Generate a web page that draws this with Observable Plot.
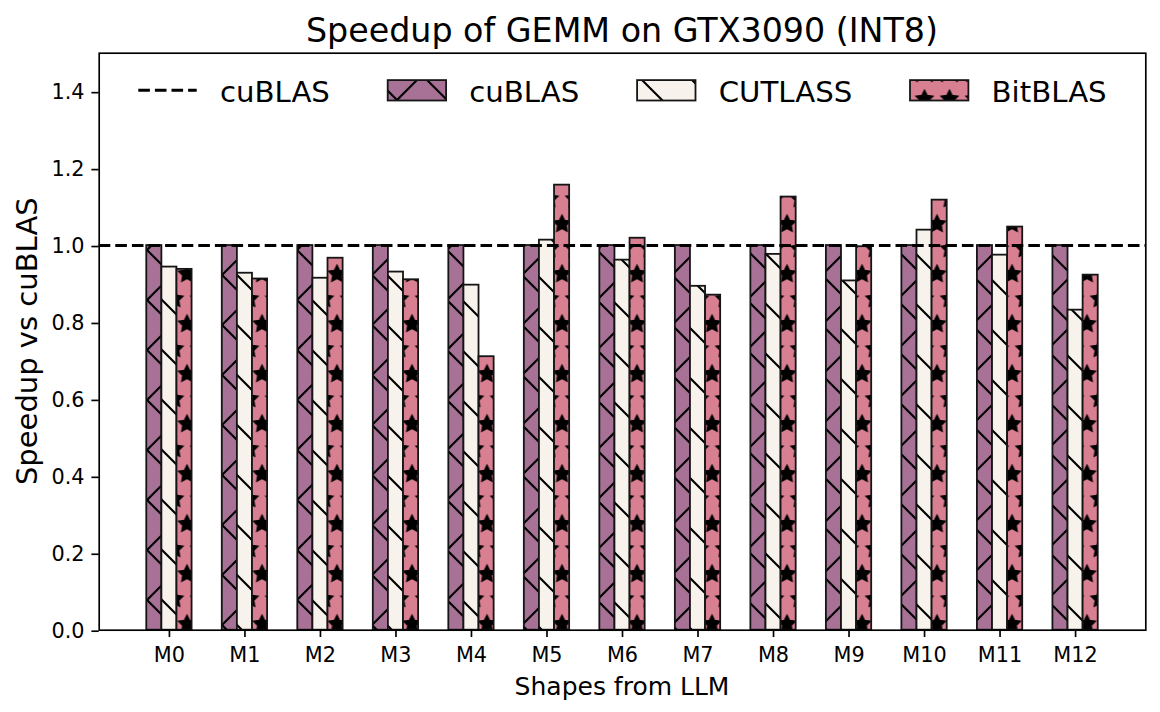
<!DOCTYPE html>
<html><head><meta charset="utf-8">
<script src="https://cdn.jsdelivr.net/npm/d3@7"></script>
<script src="https://cdn.jsdelivr.net/npm/@observablehq/plot@0.6"></script>
<style>
body{margin:0;background:#fff;font-family:"DejaVu Sans",sans-serif;}
#title{height:30px;padding-top:14px;margin-left:98.7px;width:1046.6px;line-height:33.3px;font-size:33.3px;text-align:center;color:#000;white-space:nowrap;}
#chart svg{display:block;}
</style></head><body>
<div id="title">Speedup of GEMM on GTX3090 (INT8)</div>
<div id="chart"></div>
<script>
// ---- data ----
const shapes = ["M0","M1","M2","M3","M4","M5","M6","M7","M8","M9","M10","M11","M12"];
const seriesNames = ["cuBLAS","CUTLASS","BitBLAS"];
const cublas  = [1,1,1,1,1,1,1,1,1,1,1,1,1];
const cutlass = [0.944,0.928,0.915,0.931,0.897,1.014,0.962,0.894,0.977,0.908,1.040,0.975,0.832];
const bitblas = [0.938,0.913,0.967,0.911,0.711,1.157,1.019,0.871,1.126,0.997,1.118,1.048,0.923];
const yTicks = [0,0.2,0.4,0.6,0.8,1.0,1.2,1.4];
const refValue = 1.0;
const refName = "cuBLAS";
const yLabel = "Speedup vs cuBLAS";
const xLabel = "Shapes from LLM";

// ---- styles ----
const colors = {cuBLAS:"#A87297", CUTLASS:"#F7F2EB", BitBLAS:"#D88092"};
const patterns = {cuBLAS:"hatch-x", CUTLASS:"hatch-bs", BitBLAS:"hatch-star"};
const offsets = {cuBLAS:-0.2, CUTLASS:0, BitBLAS:0.2};
const valuesOf = {cuBLAS:cublas, CUTLASS:cutlass, BitBLAS:bitblas};
const EDGE = "#151515";
const TOP = 44; // svg offset in page

const marks = [];
for (const s of seriesNames) {
  const rows = shapes.map((name,i)=>({i, name, v: valuesOf[s][i]}));
  const off = offsets[s];
  const opts = {x1: d=>d.i+off-0.1, x2: d=>d.i+off+0.1, y1: 0, y2: "v"};
  marks.push(Plot.rectY(rows, {...opts, fill: colors[s]}));
  marks.push(Plot.rectY(rows, {...opts, fill: `url(#${patterns[s]})`, stroke: EDGE, strokeWidth: 1.8}));
}
marks.push(Plot.ruleY([refValue], {stroke:"#000", strokeWidth:3.1, strokeDasharray:"11.6,5"}));
marks.push(Plot.frame({stroke:"#000", strokeWidth:1.67}));
marks.push(Plot.axisY({ticks: yTicks, tickFormat: d=>d.toFixed(1), tickSize:7.3, tickPadding:7.4, strokeWidth:1.67, label:null, fontSize:20.8, dy:1}));
marks.push(Plot.axisX({ticks: d3.range(shapes.length), tickFormat: i=>shapes[i], tickSize:7.3, tickPadding:9.9, strokeWidth:1.67, label:null, fontSize:20.8}));

const svg = Plot.plot({
  width:1160, height:668,
  marginTop:8.7, marginBottom:82.3, marginLeft:98.7, marginRight:14.7,
  x:{type:"linear", domain:[-0.93,12.93]},
  y:{domain:[0,1.5]},
  style:{fontFamily:"'DejaVu Sans', sans-serif", fontSize:"20.8px", color:"#000", background:"#fff", overflow:"visible"},
  marks
});
document.getElementById("chart").appendChild(svg);

// ---- pattern defs ----
const ns = d3.select(svg);
const defs = ns.insert("defs", ":first-child");
function linesPattern(id, slashC, backC) {
  const p = defs.append("pattern").attr("id", id).attr("patternUnits","userSpaceOnUse")
    .attr("x",0).attr("y",0).attr("width",50).attr("height",50);
  for (const c of slashC) for (const k of [-100,-50,0,50,100]) {
    p.append("line").attr("x1",-10).attr("y1",c+k+10).attr("x2",60).attr("y2",c+k-60)
      .attr("stroke","#000").attr("stroke-width",2.1);
  }
  for (const c of backC) for (const k of [-100,-50,0,50,100]) {
    p.append("line").attr("x1",-10).attr("y1",c+k-10).attr("x2",60).attr("y2",c+k+60)
      .attr("stroke","#000").attr("stroke-width",2.1);
  }
}
linesPattern("hatch-x", [3], [9]);
linesPattern("hatch-bs", [], [44]);
// stars
const r = 25/3, ri = r*0.5;
const starPts = d3.range(10).map(k=>{const a=-Math.PI/2+k*Math.PI/5; const rr=k%2?ri:r; return [rr*Math.cos(a), rr*Math.sin(a)];});
const starPath = "M"+starPts.map(p=>p[0].toFixed(3)+","+p[1].toFixed(3)).join("L")+"Z";
const sp = defs.append("pattern").attr("id","hatch-star").attr("patternUnits","userSpaceOnUse")
  .attr("x",-0.5).attr("y",5).attr("width",25).attr("height",50);
for (const [cx,cy] of [[12.5,25],[0,0],[25,0],[0,50],[25,50],[12.5,-25],[12.5,75]]) {
  sp.append("path").attr("d",starPath).attr("transform",`translate(${cx},${cy})`)
    .attr("fill","#000").attr("stroke","#000").attr("stroke-width",1.8).attr("stroke-linejoin","miter");
}

// ---- axis labels ----
ns.append("text").attr("transform",`translate(37,${(8.7+585.7)/2}) rotate(-90)`).attr("text-anchor","middle")
  .attr("font-size",29).attr("fill","#000").text(yLabel);
ns.append("text").attr("x",(98.7+1145.3)/2).attr("y",651).attr("text-anchor","middle")
  .attr("font-size",25).attr("fill","#000").text(xLabel);

// ---- legend ----
const lg = ns.append("g").attr("text-anchor","start");
const ly = 90.3 - TOP;
lg.append("line").attr("x1",138.3).attr("x2",196.7).attr("y1",ly).attr("y2",ly)
  .attr("stroke","#000").attr("stroke-width",3.1).attr("stroke-dasharray","11.6,5");
lg.append("text").attr("x",219.9).attr("y",102.3-TOP).attr("text-anchor","start").attr("font-size",29.2).attr("fill","#000").text(refName);
const patchX = {cuBLAS:387.7, CUTLASS:637.1, BitBLAS:910.0};
const textX = {cuBLAS:469.3, CUTLASS:718.7, BitBLAS:991.6};
for (const s of seriesNames) {
  lg.append("rect").attr("x",patchX[s]).attr("y",80.1-TOP).attr("width",58.4).attr("height",20.4).attr("fill",colors[s]);
  lg.append("rect").attr("x",patchX[s]).attr("y",80.1-TOP).attr("width",58.4).attr("height",20.4)
    .attr("fill",`url(#${patterns[s]})`).attr("stroke",EDGE).attr("stroke-width",1.8);
  lg.append("text").attr("x",textX[s]).attr("y",102.3-TOP).attr("text-anchor","start").attr("font-size",29.2).attr("fill","#000").text(s);
}
</script>
</body></html>
